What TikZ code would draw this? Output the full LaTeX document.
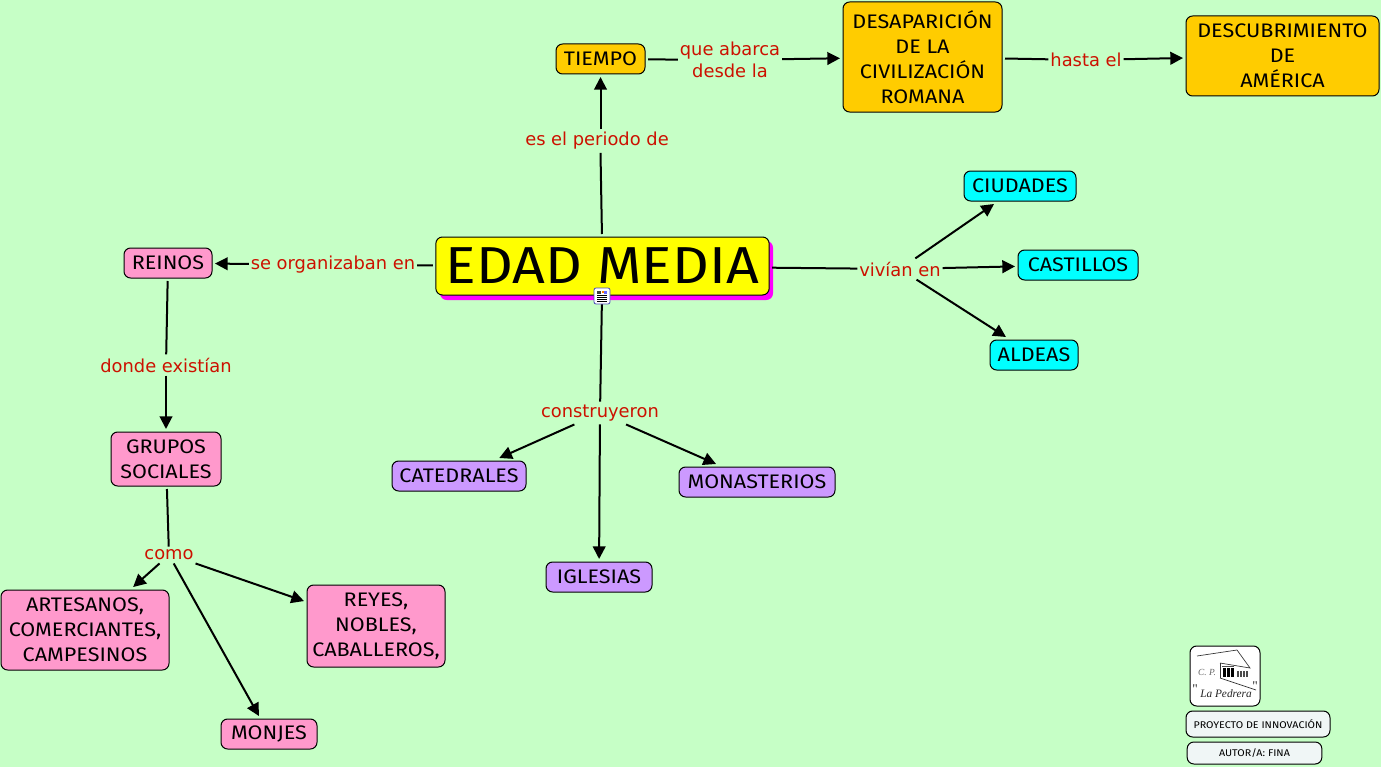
\documentclass[tikz,border=0pt]{standalone}
\usepackage{fontspec}
\setmainfont{Fira Sans}[FakeStretch=1.1]
\newfontfamily\lblfont{DejaVu Sans}
\newfontfamily\logofont{Liberation Serif}
\usetikzlibrary{arrows.meta}
\definecolor{bgc}{RGB}{198,255,198}
\definecolor{yellowc}{RGB}{255,255,0}
\definecolor{magentac}{RGB}{255,0,255}
\definecolor{orangec}{RGB}{255,204,0}
\definecolor{cyanc}{RGB}{0,255,255}
\definecolor{purplec}{RGB}{204,153,255}
\definecolor{pinkc}{RGB}{255,153,204}
\definecolor{redc}{RGB}{204,17,0}
\definecolor{panelc}{RGB}{240,246,246}
\tikzset{
  x=0.75pt,y=-0.75pt,
  box/.style={draw=black,line width=0.75pt,rounded corners=5pt,inner sep=0pt,outer sep=2.25pt,align=center,
    font=\fontsize{14.7}{18.75}\selectfont,text=black},
  lbl/.style={inner xsep=1.5pt,inner ysep=2.5pt,outer sep=0pt,align=center,text=redc,
    font=\lblfont\fontsize{13.4}{16.5}\selectfont},
  link/.style={line width=1.5pt,draw=black},
  arr/.style={link,-{Triangle[length=9.5pt,width=9.5pt]}},
  mini/.style={draw=black,line width=0.75pt,rounded corners=5pt,fill=panelc,inner sep=0pt,
    font=\fontsize{7.3}{9}\selectfont,text=black}
}
\begin{document}
\begin{tikzpicture}
\useasboundingbox (0,0) rectangle (1381,767);
\fill[bgc] (0,0) rectangle (1381,767);

% boxes
\fill[magentac,rounded corners=5pt] (440,241) rectangle (773,300);
\node[box,fill=yellowc,minimum width=250pt,minimum height=43.5pt,font=\fontsize{39}{48}\selectfont] (edad) at (602.5,266) {EDAD MEDIA};

\node[box,fill=orangec,minimum width=66.75pt,minimum height=22.5pt] (tiempo) at (600.5,59) {TIEMPO};
\node[box,fill=orangec,minimum width=119.25pt,minimum height=82.5pt] (desap) at (922.5,57) {DESAPARICIÓN\\DE LA\\CIVILIZACIÓN\\ROMANA};
\node[box,fill=orangec,minimum width=144.75pt,minimum height=60pt] (descu) at (1282.5,56) {DESCUBRIMIENTO\\DE\\AMÉRICA};

\node[box,fill=cyanc,minimum width=84pt,minimum height=22.5pt] (ciud) at (1020,186) {CIUDADES};
\node[box,fill=cyanc,minimum width=90pt,minimum height=22.5pt] (cast) at (1078,265) {CASTILLOS};
\node[box,fill=cyanc,minimum width=66pt,minimum height=22.5pt] (aldeas) at (1034,355) {ALDEAS};

\node[box,fill=pinkc,minimum width=66pt,minimum height=22.5pt] (reinos) at (168,263) {REINOS};
\node[box,fill=pinkc,minimum width=82.5pt,minimum height=40.5pt] (grupos) at (166,459) {GRUPOS\\SOCIALES};
\node[box,fill=pinkc,minimum width=126pt,minimum height=60pt] (arte) at (85,630) {ARTESANOS,\\COMERCIANTES,\\CAMPESINOS};
\node[box,fill=pinkc,minimum width=103.5pt,minimum height=61.5pt] (reyes) at (376,626) {REYES,\\NOBLES,\\CABALLEROS,};
\node[box,fill=pinkc,minimum width=72pt,minimum height=22.5pt] (monjes) at (269,734) {MONJES};

\node[box,fill=purplec,minimum width=100.5pt,minimum height=22.5pt] (cated) at (459,476) {CATEDRALES};
\node[box,fill=purplec,minimum width=117pt,minimum height=22.5pt] (monas) at (757,482) {MONASTERIOS};
\node[box,fill=purplec,minimum width=79.5pt,minimum height=22.5pt] (igle) at (599,577) {IGLESIAS};

% labels
\node[lbl] (lperiodo) at (597,141) {es el periodo de};
\node[lbl] (labarca) at (730,60) {que abarca\\desde la};
\node[lbl] (lhasta) at (1086,60) {hasta el};
\node[lbl] (lvivian) at (900,269) {vivían en};
\node[lbl] (lorg) at (333,265) {se organizaban en};
\node[lbl] (ldonde) at (166,365) {donde existían};
\node[lbl] (lcons) at (600,413) {construyeron};
\node[lbl] (lcomo) at (169,555) {como};

% connectors
\draw[link] (edad) -- (lperiodo.south -| tiempo.south);
\draw[arr] (lperiodo.north -| tiempo.south) -- (tiempo);
\draw[link] (tiempo) -- (labarca);
\draw[arr] (labarca) -- (desap);
\draw[link] (desap) -- (lhasta);
\draw[arr] (lhasta) -- (descu);
\draw[link] (edad) -- (lvivian);
\draw[arr] (lvivian) -- (ciud);
\draw[arr] (lvivian) -- (cast);
\draw[arr] (lvivian) -- (aldeas);
\draw[link] (edad) -- (lorg);
\draw[arr] (lorg) -- (reinos);
\draw[link] (reinos) -- (ldonde);
\draw[arr] (ldonde) -- (grupos);
\draw[link] (grupos) -- (lcomo);
\draw[arr] (lcomo) -- (arte);
\draw[arr] (lcomo.south east) -- (reyes);
\draw[arr] (lcomo) -- (monjes);
\draw[link] (edad) -- (lcons);
\draw[arr] (lcons) -- (cated);
\draw[arr] (lcons) -- (monas);
\draw[arr] (lcons) -- (igle);

% document icon on the central node
\draw[draw=black!40!blue!70,fill=white,line width=0.6pt,rounded corners=1.5pt] (594,288) rectangle (610,304);
\fill[black!75] (597,291) rectangle (601,294);
\fill[orange] (602,290.5) rectangle (607,293);
\fill[blue!60] (603.5,291) rectangle (607,294);
\foreach \yy in {295.5,297.5,299.5,301.5}{\draw[black,line width=0.6pt] (597,\yy) -- (607,\yy);}

% logo
\node[mini,fill=white,minimum width=52.5pt,minimum height=45pt] (logo) at (1225,676) {};
\draw[black!80,line width=0.5pt] (1197,656) -- (1237,650) -- (1250,668) -- (1220,663);
\draw[black!80,line width=0.5pt] (1220,663) -- (1220,678);
\draw[black!80,line width=0.5pt] (1220,678) -- (1256,690);
\foreach \xx in {1223,1227,1231}{\fill[black] (\xx,668) rectangle (\xx+2.5,677);}
\foreach \xx in {1237,1240,1243,1246}{\fill[black!70] (\xx,671) rectangle (\xx+1.5,677);}
\fill[black!70] (1222,665.5) rectangle (1234,667);
\node[inner sep=0pt,font=\logofont\itshape\fontsize{7}{8}\selectfont,text=black!60] (cp) at (1207,672) {C. P.};
\node[inner sep=0pt,font=\logofont\itshape\fontsize{8.5}{10}\selectfont,text=black!85] (pedr) at (1226,694) {La Pedrera};
\node[inner sep=0pt,font=\logofont\fontsize{10}{10}\selectfont,text=black!85] (qa) at (1195,689) {"};
\node[inner sep=0pt,font=\logofont\fontsize{10}{10}\selectfont,text=black!85] (qb) at (1255,686) {"};

\node[mini,minimum width=108pt,minimum height=19.5pt] (proy) at (1258,724) {PROYECTO DE INNOVACIÓN};
\node[mini,minimum width=101pt,minimum height=16.5pt] (autor) at (1254.5,753) {AUTOR/A: FINA};
\end{tikzpicture}
\end{document}
